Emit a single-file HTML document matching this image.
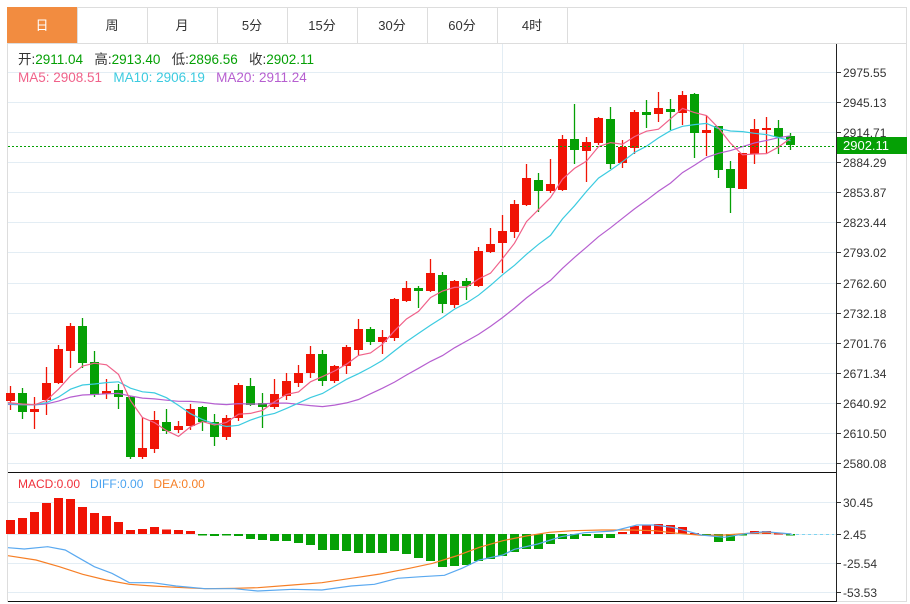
<!DOCTYPE html>
<html><head><meta charset="utf-8">
<style>
html,body{margin:0;padding:0;background:#fff;width:910px;height:604px;overflow:hidden;font-family:"Liberation Sans","Noto Sans CJK SC",sans-serif;}
svg{position:absolute;left:0;top:0}
</style></head><body>
<svg id="s" width="910" height="604" xmlns="http://www.w3.org/2000/svg" font-family="Liberation Sans, Noto Sans CJK SC, sans-serif"></svg>
<script>
var S=document.getElementById('s');var h='';
function L(x1,y1,x2,y2,c,w,extra){h+='<line x1="'+x1+'" y1="'+y1+'" x2="'+x2+'" y2="'+y2+'" stroke="'+c+'" stroke-width="'+(w||1)+'" '+(extra||'')+'/>';}
function R(x,y,w,hh,c,extra){h+='<rect x="'+x+'" y="'+y+'" width="'+w+'" height="'+hh+'" fill="'+c+'" '+(extra||'')+'/>';}
function T(x,y,t,c,sz,anchor){h+='<text x="'+x+'" y="'+y+'" fill="'+c+'" font-size="'+sz+'" text-anchor="'+(anchor||'start')+'">'+t+'</text>';}
R(7.5,7.5,899,594,'none','stroke="#dddddd"');
var tabs=['日','周','月','5分','15分','30分','60分','4时'];
for(var i=0;i<8;i++){var x=7+i*70;
 if(i==0)R(x,7,70,36,'#f28c40');
 L(x+70.5,7,x+70.5,43,'#dddddd');
 T(x+35,30,tabs[i],i==0?'#fff':'#333',13,'middle');}
L(7,43.5,907,43.5,'#dddddd');
var prices=['2975.55','2945.13','2914.71','2884.29','2853.87','2823.44','2793.02','2762.60','2732.18','2701.76','2671.34','2640.92','2610.50','2580.08'];
for(var i=0;i<14;i++){var y=72+i*30.08;y=Math.round(y)+0.5;
 L(8,y,836,y,'#e3edf4');L(836,y,841,y,'#333');T(843,y+4.5,prices[i],'#333',12);}
L(502.5,44,502.5,600,'#e3edf4');L(743.5,44,743.5,600,'#e3edf4');
var ml=[['30.45',502],['2.45',534],['-25.54',563],['-53.53',592]];
ml.forEach(function(m){var y=m[1]+0.5;L(8,y,836,y,'#e3edf4');L(836,y,841,y,'#333');T(843,y+4.5,m[0],'#333',12);});
var C=[[401,393,386,410],[393,412,388,419],[412,409,397,429],[400,383,367,415],[383,349,345,384],[351,326,323,368],[326,363,318,368],[362,395,351,397],[394,391,379,399],[390,397,384,409],
[397,457,396,459],[457,448,417,459],[449,420,411,453],[422,431,409,434],[430,426,421,433],[426,409,404,430],[407,422,406,431],[422,437,414,446],[437,418,415,440],[418,385,383,421],
[386,405,378,406],[403,407,393,428],[407,394,379,409],[396,381,373,400],[383,373,365,387],[373,354,346,378],[354,381,350,386],[381,366,365,383],[366,347,345,374],[350,329,319,355],
[329,342,327,345],[342,337,330,354],[338,299,298,341],[301,288,281,302],[288,291,286,308],[291,273,259,292],[275,304,272,313],[305,281,280,308],[281,286,278,300],[286,251,247,287],
[252,244,228,253],[243,231,215,273],[232,204,200,238],[205,178,164,206],[180,191,173,212],[191,184,159,193],[190,139,135,191],[139,150,104,164],[151,142,137,182],[143,118,117,145],
[119,164,107,169],[163,147,140,168],[148,112,110,154],[112,115,100,128],[114,108,92,122],[109,112,99,130],[113,95,91,125],[94,133,93,158],[133,130,116,156],[126,170,126,178],
[169,188,161,213],[189,153,153,189],[154,129,119,164],[130,128,117,153],[128,137,120,154],[136,145,133,150]];
var RED='#f01405',GRN='#05a005';
C.forEach(function(c,i){var x=10+12*i;var up=c[1]<c[0];var col=up?RED:GRN;
 L(x+0.5,c[2],x+0.5,c[3],col,1.3);var t=Math.min(c[0],c[1]),b=Math.max(c[0],c[1]);R(x-4,t,9,Math.max(b-t,2),col);});
var cl=C.map(function(c){return c[1]});var pre=[];for(var i=0;i<19;i++)pre.push(405);var all=pre.concat(cl);
function ma(n,col){var p='';for(var i=0;i<cl.length;i++){var s=0;for(var k=0;k<n;k++)s+=all[i+19-k];var y=s/n;var x=10+12*i+0.5;if(i==0)x=8;p+=(i?'L':'M')+x+','+y.toFixed(1);}
 h+='<path d="'+p+'" fill="none" stroke="'+col+'" stroke-width="1.2"/>';}
ma(20,'#b65fd0');ma(10,'#3ccbe0');ma(5,'#f0628a');
L(8,146.5,836,146.5,'#05a005',1,'stroke-dasharray="2,2"');
R(837,137,70,17,'#05a005');T(843,150,'2902.11','#fff',13);
h+='<text x="18" y="64" font-size="13.5" fill="#333" xml:space="preserve">开:<tspan fill="#05a005">2911.04</tspan>   高:<tspan fill="#05a005">2913.40</tspan>   低:<tspan fill="#05a005">2896.56</tspan>   收:<tspan fill="#05a005">2902.11</tspan></text>';
h+='<text x="18" y="82" font-size="13.5" xml:space="preserve"><tspan fill="#f0628a">MA5: 2908.51</tspan>   <tspan fill="#3ccbe0">MA10: 2906.19</tspan>   <tspan fill="#b65fd0">MA20: 2911.24</tspan></text>';
var M=[520,518,512,503,498,499,507,513,516,522,530,529,527,529.5,530,531,535,536,535,536,539,540,541,541,543,545,550,550,551,553,553,553,551,554,558,561,567,566,565,561,559,556,552,549,549,544,539,539,536,538,538,532,526,525,524,525,527,533,535,542,541,534,531,531,533,534];
M.forEach(function(v,i){var x=10+12*i;var col=v<534?RED:GRN;var t=Math.min(v,534),b=Math.max(v,534);if(b-t<1.5){b=t+1.5;}R(x-4,t,9,b-t,col);});
L(790,534.5,834,534.5,'#7fd4f0',1,'stroke-dasharray="3,3"');
function pl(pts,col){var p='';pts.forEach(function(q,i){p+=(i?'L':'M')+(q[0]/1.714+1).toFixed(1)+','+(470+q[1]/3).toFixed(1);});h+='<path d="'+p+'" fill="none" stroke="'+col+'" stroke-width="1.2"/>';}
pl([[12,257],[60,270],[100,290],[140,313],[180,330],[220,343],[260,348],[300,352],[350,356],[400,355],[440,353],[500,345],[550,338],[600,325],[650,312],[700,295],[740,280],[780,258],[820,232],[860,212],[900,198],[940,187],[980,182],[1030,180],[1080,180],[1120,182],[1160,190],[1200,196],[1240,195],[1280,190],[1320,188],[1355,192]],'#f67f26');
pl([[12,233],[40,237],[80,230],[110,240],[130,260],[160,290],[190,310],[220,338],[260,338],[300,348],[350,356],[400,356],[440,363],[500,358],[550,360],[600,348],[640,343],[680,325],[720,320],[760,316],[790,295],[820,270],[860,255],[880,238],[920,222],[960,200],[1000,188],[1050,183],[1090,165],[1120,165],[1150,172],[1180,185],[1200,195],[1240,202],[1280,190],[1310,185],[1355,192]],'#5aa9f0');
h+='<text x="18" y="488" font-size="12" xml:space="preserve"><tspan fill="#f0303a">MACD:0.00</tspan>   <tspan fill="#4aa3f0">DIFF:0.00</tspan>   <tspan fill="#f67f26">DEA:0.00</tspan></text>';
L(836.5,44,836.5,602,'#222');L(8,472.5,836,472.5,'#111');L(8,601.5,836,601.5,'#111');
S.innerHTML=h;
</script>
</body></html>
